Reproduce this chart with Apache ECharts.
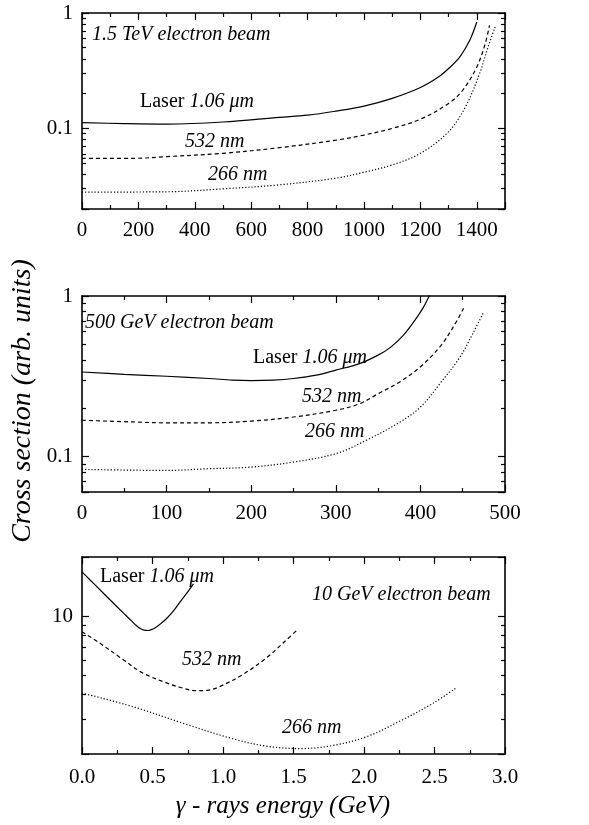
<!DOCTYPE html>
<html>
<head>
<meta charset="utf-8">
<script src="https://cdn.jsdelivr.net/npm/echarts@6/dist/echarts.min.js"></script>
<style>
  html, body { margin: 0; padding: 0; background: #fff; }
  #chart { width: 589px; height: 825px; }
</style>
</head>
<body>
<div id="chart"></div>
<script>
// ---- 1.5 TeV electron beam (photon energy in GeV) ----
const tevLaser1064X = [0, 150, 300, 500, 700, 800, 900, 1000, 1100, 1200, 1265, 1300, 1340, 1375, 1400];
const tevLaser1064Y = [0.112, 0.110, 0.109, 0.1135, 0.1245, 0.130, 0.141, 0.156, 0.182, 0.226, 0.280, 0.330, 0.417, 0.580, 0.836];
const tevLaser532X = [0, 180, 300, 500, 700, 900, 1000, 1100, 1200, 1300, 1350, 1400, 1430, 1445];
const tevLaser532Y = [0.055, 0.055, 0.0569, 0.0608, 0.068, 0.079, 0.0875, 0.100, 0.120, 0.1645, 0.214, 0.341, 0.543, 0.782];
const tevLaser266X = [0, 300, 500, 700, 900, 1000, 1100, 1200, 1300, 1360, 1410, 1440, 1465];
const tevLaser266Y = [0.028, 0.0282, 0.0299, 0.0324, 0.037, 0.0417, 0.0482, 0.0608, 0.0936, 0.154, 0.299, 0.508, 0.757];

// ---- 500 GeV electron beam ----
const gevLaser1064X = [0, 50, 100, 150, 178, 200, 226, 250, 277, 300, 328, 350, 365, 380, 393, 403, 410, 416];
const gevLaser1064Y = [0.336, 0.325, 0.316, 0.306, 0.299, 0.297, 0.299, 0.306, 0.321, 0.345, 0.379, 0.428, 0.48, 0.57, 0.70, 0.84, 0.99, 1.16];
const gevLaser532X = [0, 60, 100, 150, 200, 250, 300, 328, 350, 376, 400, 423, 439, 451];
const gevLaser532Y = [0.168, 0.164, 0.162, 0.162, 0.166, 0.176, 0.194, 0.213, 0.246, 0.292, 0.362, 0.482, 0.643, 0.837];
const gevLaser266X = [0, 100, 150, 200, 250, 300, 336, 376, 400, 423, 447, 463, 475];
const gevLaser266Y = [0.083, 0.0818, 0.0838, 0.0858, 0.0922, 0.104, 0.126, 0.164, 0.203, 0.284, 0.418, 0.598, 0.798];

// ---- 10 GeV electron beam ----
const lowLaser1064X = [0, 0.1, 0.2, 0.3, 0.35, 0.38, 0.41, 0.44, 0.47, 0.5, 0.53, 0.56, 0.6, 0.65, 0.7, 0.75, 0.79];
const lowLaser1064Y = [16.8, 14.26, 12.1, 10.28, 9.5, 9.05, 8.7, 8.5, 8.47, 8.6, 8.85, 9.2, 9.75, 10.7, 11.95, 13.3, 14.6];
const lowLaser532X = [0, 0.12, 0.29, 0.43, 0.6, 0.7, 0.81, 0.9, 0.98, 1.14, 1.31, 1.43, 1.52];
const lowLaser532Y = [8.35, 7.36, 6.04, 5.16, 4.59, 4.35, 4.19, 4.22, 4.41, 5.06, 6.17, 7.36, 8.44];
const lowLaser266X = [0, 0.36, 0.72, 1.07, 1.31, 1.55, 1.78, 2.02, 2.26, 2.49, 2.66];
const lowLaser266Y = [4.08, 3.48, 2.86, 2.39, 2.19, 2.13, 2.21, 2.45, 2.95, 3.62, 4.36];

// Axis ranges
const xRanges = [[0, 1500, 200], [0, 500, 100], [0, 3, 0.5]];
const yRanges = [[0.02, 1], [0.06, 1], [2, 20]];

// Panel captions
const beamTitles = ['1.5 TeV electron beam', '500 GeV electron beam', '10 GeV electron beam'];
const curveNames = ['532 nm', '266 nm'];
const yTitle = 'Cross section (arb. units)';
const xTitle = 'γ - rays energy (GeV)';

const FONT = 'Liberation Serif';
const BLACK = '#000';

const grids = [
  { left: 82, right: 84, top: 13, height: 196 },
  { left: 82, right: 84, top: 296, height: 196 },
  { left: 82, right: 84, top: 557, height: 197 }
];

const tickStyle = { inside: true, length: 7, lineStyle: { color: BLACK, width: 1.2 } };
const minorStyle = (n) => ({ show: true, splitNumber: n, length: 4, lineStyle: { color: BLACK, width: 1.2 } });
const lineAxis = { show: true, onZero: false, lineStyle: { color: BLACK, width: 1.6 } };

function isPow10(v) {
  const l = Math.log10(v);
  return Math.abs(l - Math.round(l)) < 1e-6;
}

const xAxis = [];
const yAxis = [];
xRanges.forEach((r, i) => {
  const [mn, mx, step] = r;
  const decimals = step < 1 ? 1 : 0;
  const base = {
    type: 'value', gridIndex: i, min: mn, max: mx, interval: step,
    axisLine: lineAxis, axisTick: tickStyle, minorTick: minorStyle(2),
    splitLine: { show: false }, minorSplitLine: { show: false }
  };
  xAxis.push(Object.assign({}, base, {
    position: 'bottom',
    axisLabel: {
      color: BLACK, fontFamily: FONT, fontSize: 21, margin: i === 2 ? 13 : 11,
      showMaxLabel: i !== 0,
      formatter: (v) => v.toFixed(decimals)
    }
  }));
  xAxis.push(Object.assign({}, base, { position: 'top', axisLabel: { show: false } }));
});
yRanges.forEach((r, i) => {
  const base = {
    type: 'log', logBase: 10, gridIndex: i, min: r[0], max: r[1],
    axisLine: lineAxis, axisTick: tickStyle, minorTick: minorStyle(9),
    splitLine: { show: false }, minorSplitLine: { show: false }
  };
  yAxis.push(Object.assign({}, base, {
    position: 'left',
    axisLabel: {
      color: BLACK, fontFamily: FONT, fontSize: 21, margin: 9,
      formatter: (v) => isPow10(v) ? String(Number(v.toPrecision(6))) : ''
    }
  }));
  yAxis.push(Object.assign({}, base, { position: 'right', axisLabel: { show: false } }));
});

function zip(xs, ys) { return xs.map((x, k) => [x, ys[k]]); }

const dashTypes = ['solid', [4, 3], [1.2, 2]];
const panelData = [
  [[tevLaser1064X, tevLaser1064Y], [tevLaser532X, tevLaser532Y], [tevLaser266X, tevLaser266Y]],
  [[gevLaser1064X, gevLaser1064Y], [gevLaser532X, gevLaser532Y], [gevLaser266X, gevLaser266Y]],
  [[lowLaser1064X, lowLaser1064Y], [lowLaser532X, lowLaser532Y], [lowLaser266X, lowLaser266Y]]
];
const series = [];
panelData.forEach((curves, i) => {
  curves.forEach((c, k) => {
    series.push({
      type: 'line', xAxisIndex: 2 * i, yAxisIndex: 2 * i,
      data: zip(c[0], c[1]), showSymbol: false, smooth: 0.35, clip: true,
      lineStyle: { color: BLACK, width: 1.2, type: dashTypes[k] },
      silent: true, animation: false
    });
  });
});

// Text annotations
function italicText(str, x, y, size) {
  return {
    type: 'text', x, y, silent: true,
    style: { text: str, fill: BLACK, fontFamily: FONT, fontSize: size, fontStyle: 'italic', textVerticalAlign: 'middle' }
  };
}
function laserText(x, y) {
  return {
    type: 'text', x, y, silent: true,
    style: {
      text: '{u|Laser }{i|1.06 μm}', fill: BLACK, fontFamily: FONT, fontSize: 20, textVerticalAlign: 'middle',
      rich: {
        u: { fontFamily: FONT, fontSize: 20, fill: BLACK },
        i: { fontFamily: FONT, fontSize: 20, fontStyle: 'italic', fill: BLACK }
      }
    }
  };
}

const graphic = [
  italicText(beamTitles[0], 92, 35, 20),
  laserText(140, 102),
  italicText(curveNames[0], 185, 142, 20),
  italicText(curveNames[1], 208, 175, 20),

  italicText(beamTitles[1], 85, 323, 20),
  laserText(253, 358),
  italicText(curveNames[0], 302, 397, 20),
  italicText(curveNames[1], 305, 432, 20),

  laserText(100, 577),
  italicText(beamTitles[2], 312, 595, 20),
  italicText(curveNames[0], 182, 660, 20),
  italicText(curveNames[1], 282, 728, 20),

  {
    type: 'text', x: 23, y: 401, rotation: Math.PI / 2, silent: true,
    style: { text: yTitle, fill: BLACK, fontFamily: FONT, fontSize: 28, fontStyle: 'italic', textAlign: 'center', textVerticalAlign: 'middle' }
  },
  {
    type: 'text', x: 283, y: 806, silent: true,
    style: { text: xTitle, fill: BLACK, fontFamily: FONT, fontSize: 25, fontStyle: 'italic', textAlign: 'center', textVerticalAlign: 'middle' }
  }
];

const chart = echarts.init(document.getElementById('chart'), null, { renderer: 'canvas' });
chart.setOption({
  animation: false,
  backgroundColor: '#fff',
  grid: grids,
  xAxis, yAxis, series, graphic
});
</script>
</body>
</html>
